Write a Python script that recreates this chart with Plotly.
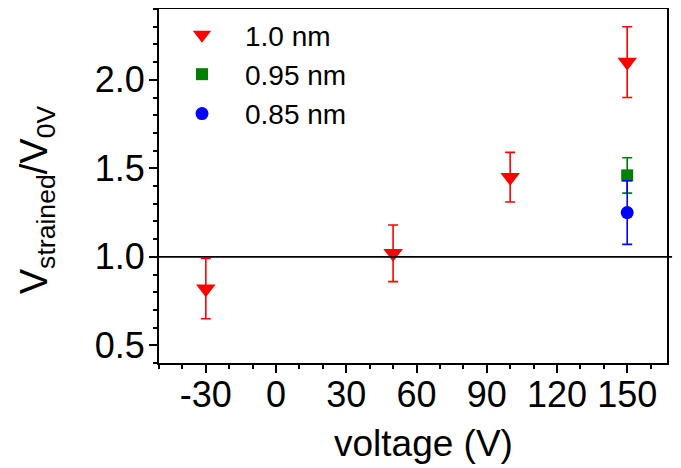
import plotly.graph_objects as go

# data
v_10 = [-30, 50, 100, 150]
r_10 = [0.82, 1.02, 1.45, 2.10]
e_10 = [0.17, 0.16, 0.14, 0.20]

v_095 = [150]
r_095 = [1.46]
e_095 = [0.10]

v_085 = [150]
r_085 = [1.25]
e_085 = [0.18]

x_ticks = [-30, 0, 30, 60, 90, 120, 150]
y_ticks = [0.5, 1.0, 1.5, 2.0]

FONT = "Liberation Sans, Arial, sans-serif"

fig = go.Figure()
fig.add_trace(go.Scatter(
    x=v_10, y=r_10, mode="markers", name="1.0 nm",
    marker=dict(symbol="triangle-down", size=17, color="#ff0000"),
    error_y=dict(type="data", array=e_10, color="#ff0000", thickness=1.6, width=5),
))
fig.add_trace(go.Scatter(
    x=v_095, y=r_095, mode="markers", name="0.95 nm",
    marker=dict(symbol="square", size=12, color="#008000"),
    error_y=dict(type="data", array=e_095, color="#008000", thickness=1.6, width=5),
))
fig.add_trace(go.Scatter(
    x=v_085, y=r_085, mode="markers", name="0.85 nm",
    marker=dict(symbol="circle", size=13, color="#0000ff"),
    error_y=dict(type="data", array=e_085, color="#0000ff", thickness=1.6, width=5),
))

fig.add_shape(type="line", xref="paper", yref="y", x0=0, x1=1.01, y0=1.0, y1=1.0,
              line=dict(color="black", width=1.8), layer="above")

fig.add_annotation(text="voltage (V)", xref="paper", yref="paper",
                   x=0.52, y=-0.226, xanchor="center", yanchor="middle",
                   showarrow=False, font=dict(size=37, family=FONT))
fig.add_annotation(text="V<sub>strained</sub>/V<sub>0V</sub>", xref="paper", yref="paper",
                   x=-0.240, y=0.46, xanchor="center", yanchor="middle", textangle=-90,
                   showarrow=False, font=dict(size=38, family=FONT))

# page body has an 8px margin: shrink the figure and compensate the margins
fig.update_layout(
    width=673, height=460,
    margin=dict(l=151, r=14, t=1, b=105, autoexpand=False),
    paper_bgcolor="white", plot_bgcolor="white",
    font=dict(family=FONT, color="black"),
    showlegend=True,
    legend=dict(x=0.0, y=0.997, xanchor="left", yanchor="top",
                font=dict(size=28, family=FONT), bgcolor="rgba(0,0,0,0)",
                itemwidth=76, itemsizing="trace"),
)
fig.update_xaxes(
    range=[-50, 167], tickmode="array", tickvals=x_ticks,
    ticktext=[str(v) for v in x_ticks],
    ticks="outside", ticklen=8, tickwidth=2, tickcolor="black",
    minor=dict(dtick=10, tick0=-50, ticks="outside", ticklen=4, tickwidth=2, tickcolor="black"),
    showline=True, linewidth=2, linecolor="black", mirror=True,
    showgrid=False, zeroline=False, ticklabelstandoff=-9,
    tickfont=dict(size=36, family=FONT),
)
fig.update_yaxes(
    range=[0.4, 2.4], tickmode="array", tickvals=y_ticks,
    ticktext=[f"{v:.1f}" for v in y_ticks],
    ticks="outside", ticklen=8, tickwidth=2, tickcolor="black",
    minor=dict(dtick=0.1, tick0=0.4, ticks="outside", ticklen=4, tickwidth=2, tickcolor="black"),
    showline=True, linewidth=2, linecolor="black", mirror=True,
    showgrid=False, zeroline=False, ticklabelstandoff=-3,
    tickfont=dict(size=36, family=FONT),
)

fig.write_html("out.html")
